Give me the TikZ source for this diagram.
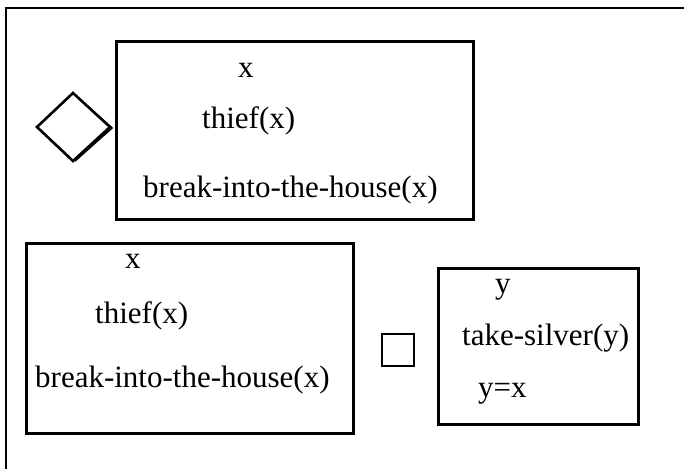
\documentclass[tikz,border=0pt]{standalone}
\usepackage{fontspec}
\setmainfont{Liberation Serif}
\begin{document}
\begin{tikzpicture}[x=1pt,y=-1pt,
  frame/.style={draw=black,line width=2.6pt},
  drsbox/.style={draw=black,line width=2.8pt,inner sep=0pt,anchor=north west},
  cond/.style={inner sep=0pt,anchor=base west,font=\fontsize{31}{36}\selectfont}]
\useasboundingbox (0,0) rectangle (684,469);
% outer frame (top and left sides only)
\draw[frame] (6,469) -- (6,8) -- (684,8);
% possibility operator
\draw[line width=2.6pt,line join=miter] (73,93) -- (110,127) -- (73,161) -- (37,127) -- cycle;
\draw[line width=1.6pt] (74,94) -- (112,128) -- (75,161);
% antecedent box
\node[drsbox,minimum width=357pt,minimum height=178pt] (b1) at (115,40) {};
\node[cond] (b1x) at (238,77) {x};
\node[cond] (b1t) at (202,128) {thief(x)};
\node[cond] (b1b) at (143,197) {break-into-the-house(x)};
% left box
\node[drsbox,minimum width=327pt,minimum height=190pt] (b2) at (25,242) {};
\node[cond] (b2x) at (125,268) {x};
\node[cond] (b2t) at (95,323) {thief(x)};
\node[cond] (b2b) at (35,387) {break-into-the-house(x)};
% necessity operator
\node[draw=black,line width=2.4pt,minimum width=32pt,minimum height=32pt,inner sep=0pt,anchor=north west] (nec) at (381,333) {};
% right box
\node[drsbox,minimum width=200pt,minimum height=156pt] (b3) at (437,267) {};
\node[cond] (b3y) at (495,293) {y};
\node[cond] (b3t) at (462,345) {take-silver(y)};
\node[cond] (b3e) at (478,397) {y=x};
\end{tikzpicture}
\end{document}
